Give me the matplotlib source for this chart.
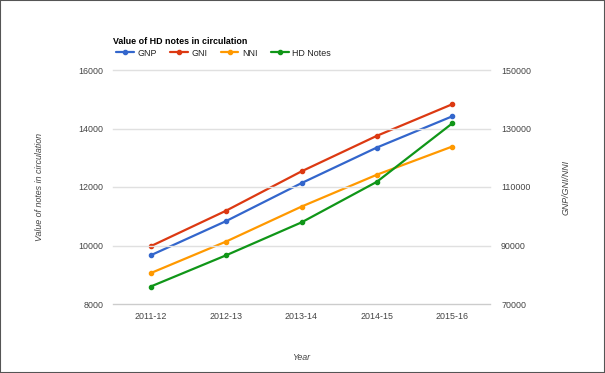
import matplotlib.pyplot as plt
from matplotlib.patches import Rectangle

years = ["2011-12", "2012-13", "2013-14", "2014-15", "2015-16"]
gnp = [86650, 98350, 111330, 123500, 134170]
gni = [89750, 101900, 115350, 127500, 138300]
nni = [80560, 91350, 103300, 114200, 123840]
hd_notes = [8597, 9665, 10790, 12179, 14176]

left_ticks = [8000, 10000, 12000, 14000, 16000]
right_ticks = [70000, 90000, 110000, 130000, 150000]

c_gnp = "#3366cc"
c_gni = "#dc3912"
c_nni = "#ff9900"
c_hd = "#109618"

plt.rcParams["font.family"] = ["Liberation Sans", "DejaVu Sans"]
fs = 6.4

fig = plt.figure(figsize=(6.05, 3.73), dpi=100)
ax = fig.add_axes([113 / 605, 1 - 304 / 373, 377 / 605, 234 / 373])
ax2 = ax.twinx()

x = list(range(len(years)))
kw = dict(linewidth=1.6, marker="o", markersize=3, solid_capstyle="round")
l1, = ax2.plot(x, gnp, color=c_gnp, label="GNP", **kw)
l2, = ax2.plot(x, gni, color=c_gni, label="GNI", **kw)
l3, = ax2.plot(x, nni, color=c_nni, label="NNI", **kw)
l4, = ax.plot(x, hd_notes, color=c_hd, label="HD Notes", **kw)
ax.set_zorder(ax2.get_zorder() + 1)
ax.patch.set_visible(False)

ax.set_xlim(-0.5, len(years) - 0.5)
ax.set_ylim(8000, 16000)
ax2.set_ylim(70000, 150000)
ax.set_yticks(left_ticks)
ax2.set_yticks(right_ticks)
ax.set_xticks(x)
ax.set_xticklabels(years)

for a in (ax, ax2):
    for s in a.spines.values():
        s.set_visible(False)
    a.tick_params(length=0, labelsize=fs, labelcolor="#444444")
ax.tick_params(axis="y", pad=7)
ax2.tick_params(axis="y", pad=8)
ax.tick_params(axis="x", pad=6)

for t in left_ticks:
    ax.axhline(t, color="#cccccc" if t == 8000 else "#e0e0e0", linewidth=1.0,
               zorder=0, clip_on=False)

ax.set_xlabel("Year", fontsize=fs, color="#444444", style="italic", labelpad=23)
fig.text(40 / 605, 1 - 187 / 373, "Value of notes in circulation", rotation=90,
         fontsize=fs, color="#444444", style="italic", ha="center", va="center")
fig.text(566 / 605, 1 - 187 / 373, "GNP/GNI/NNI", rotation=90,
         fontsize=fs, color="#444444", style="italic", ha="center", va="center")

fig.text(113 / 605, 1 - 41 / 373, "Value of HD notes in circulation", fontsize=fs,
         fontweight="bold", color="#000000", ha="left", va="center")
fig.legend(handles=[l1, l2, l3, l4], loc="center left",
           bbox_to_anchor=(108 / 605, 1 - 53 / 373), ncol=4, frameon=False,
           fontsize=fs, handlelength=2.0, handletextpad=0.4, columnspacing=1.5,
           labelcolor="#222222")

fig.patches.append(Rectangle((0, 0), 1, 1, transform=fig.transFigure, fill=False,
                             edgecolor="#555555", linewidth=1.5))

fig.savefig("out.png", dpi=100)
